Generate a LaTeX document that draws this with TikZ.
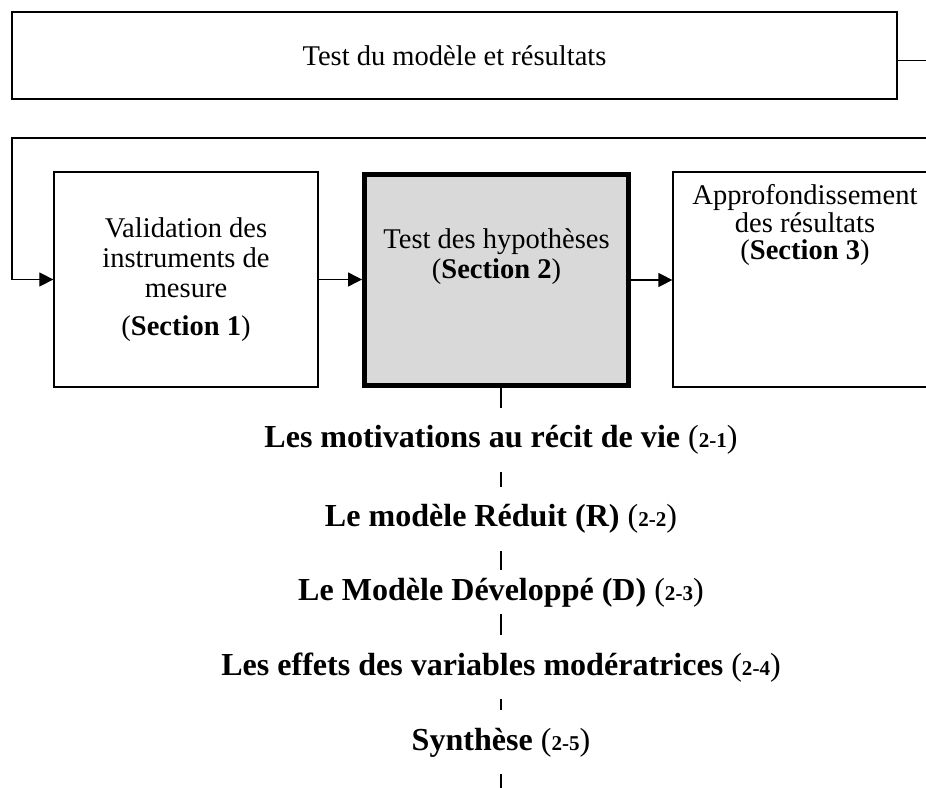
\documentclass[tikz,border=0pt]{standalone}
\usepackage{fontspec}
\setmainfont{Liberation Serif}
\usetikzlibrary{arrows.meta}
\newcommand{\subnum}[1]{{\mdseries(}{\fontsize{15}{15}\selectfont\bfseries #1}{\mdseries)}}

\begin{document}
\begin{tikzpicture}[
    box/.style={draw, line width=0.9pt, minimum width=6.6cm, minimum height=5.375cm, inner sep=0pt},
    boxtext/.style={align=center, inner sep=0pt, font=\fontsize{20.3}{21.3}\selectfont},
    partie/.style={font=\fontsize{22.8}{24}\selectfont\bfseries, anchor=base, text height=0.55cm, text depth=0.15cm, inner xsep=0pt, inner ysep=0.45cm},
    link/.style={line width=0.9pt},
    arr/.style={line width=0.9pt, -{Triangle[length=0.35cm,width=0.35cm]}}
  ]
            \useasboundingbox (0,0) rectangle (23.15,-19.7);
            \clip (0,0) rectangle (23.15,-19.7);

            % Top box
            \node[draw, line width=0.9pt, minimum width=22.125cm, minimum height=2.175cm, boxtext] (top) at (11.3625,-1.3875) {Test du modèle et résultats};
            \coordinate (fbR) at (23.5,-3.45);
            \draw[link] ([yshift=-0.13cm]top.east) -- ([yshift=-0.13cm]top.east -| fbR);

            % The three sections
            \node[box, boxtext] (b1) at (4.65,-6.9875) {Validation des\\instruments de\\mesure\\[0.2cm](\textbf{Section 1})};
            \node[box, line width=3.5pt, fill=black!15, minimum height=5.275cm] (b2) at (12.4125,-7.0) {};
            \node[boxtext, anchor=north] (b2txt) at (12.4125,-5.7) {Test des hypothèses\\(\textbf{Section 2})};
            \node[box] (b3) at (20.125,-6.9875) {};
            \node[boxtext, anchor=north, font=\fontsize{20.3}{19.3}\selectfont] (b3txt) at (20.125,-4.6125) {Approfondissement\\des résultats\\(\textbf{Section 3})};

            % Arrows between sections, and return line
            \draw[arr] (fbR) -- (0.3,-3.45) |- (b1.west);
            \draw[arr] (b1.east) -- (b1.east -| b2.west);
            \draw[arr] (b2.east) -- (b2.east -| b3.west);

            % Parts of section 2
            \node[partie] (p1) at (12.525,-11.2) {Les motivations au récit de vie \subnum{2-1}};
            \node[partie] (p2) at (12.525,-13.175) {Le modèle Réduit (R) \subnum{2-2}};
            \node[partie, inner ysep=0.2cm] (p3) at (12.525,-15.0) {Le Modèle Développé (D) \subnum{2-3}};
            \node[partie] (p4) at (12.525,-16.875) {Les effets des variables modératrices \subnum{2-4}};
            \node[partie] (p5) at (12.525,-18.75) {Synthèse \subnum{2-5}};
            \coordinate (bas) at (12.525,-20);

            % vertical line through the parts
            \draw[link] (b2.south -| p1.north) -- (p1.north);
            \foreach \a/\b in {p1/p2,p2/p3,p3/p4,p4/p5}
                \draw[link] (\a.south) -- (\b.north);
            \draw[link] (p5.south) -- (bas);
\end{tikzpicture}
\end{document}
